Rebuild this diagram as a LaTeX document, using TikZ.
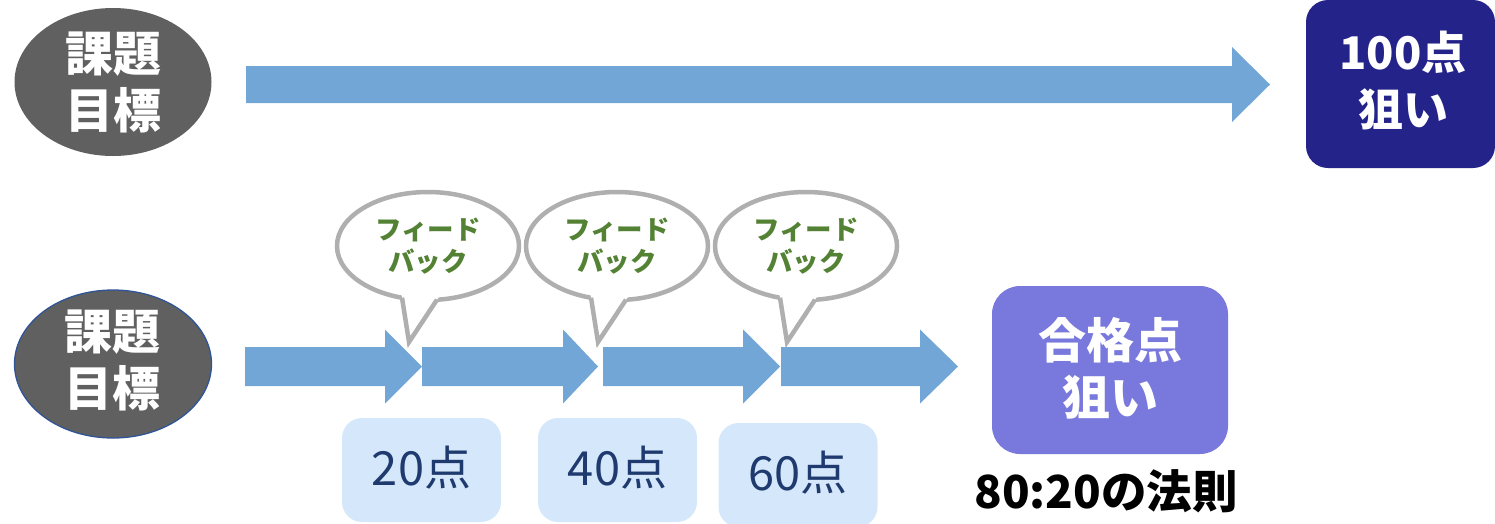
\documentclass[tikz,border=0pt]{standalone}
\usepackage{fontspec}
\setmainfont{Noto Sans CJK JP}
\usetikzlibrary{shapes.geometric}
\definecolor{goalgray}{HTML}{606060}
\definecolor{arrowblue}{HTML}{71A6D6}
\definecolor{navybox}{HTML}{23238A}
\definecolor{purplebox}{HTML}{7878DD}
\definecolor{bubgray}{HTML}{AFAFAF}
\definecolor{fbgreen}{HTML}{548235}
\definecolor{lightbox}{HTML}{D5E8FB}
\definecolor{scoretxt}{HTML}{1F3A6E}
\definecolor{ellborder}{HTML}{2F5597}
% #1 start x, #2 head base x, #3 tip x, #4 mid y, #5 body half height, #6 head half height
\newcommand{\blockarrow}[6]{%
  \fill[arrowblue] (#1,#4-#5) -- (#2,#4-#5) -- (#2,#4-#6) -- (#3,#4) -- (#2,#4+#6) -- (#2,#4+#5) -- (#1,#4+#5) -- cycle;}
% speech bubble: #1 name, #2 centre x
\newcommand{\fbbubble}[2]{%
  \node[bubble] (#1) at (#2,246) {フィード\\バック};
  \fill[white] (#2-27.5,288) -- (#2-19,342) -- (#2+16.7,288) -- cycle;
  \draw[bubgray, line width=4.5pt, line join=miter] (#2-26,297.7) -- (#2-19,342) -- (#2+9,299.7);
  \node[bubbletext] at (#1) {フィード\\バック};}
\tikzset{
  goalshape/.style={ellipse, fill=goalgray, minimum width=197pt, minimum height=148pt, inner sep=0pt},
  goaltext/.style={text=white, align=center, font=\fontsize{48}{57}\selectfont\bfseries},
  bubble/.style={ellipse, draw=bubgray, fill=white, line width=4.5pt, minimum width=182pt, minimum height=108pt, inner sep=0pt, text opacity=0},
  bubbletext/.style={text=fbgreen, align=center, font=\fontsize{26.5}{32}\selectfont\bfseries},
  scorebox/.style={fill=lightbox, rounded corners=20pt, minimum width=159pt, minimum height=104pt, inner sep=0pt},
  scoretext/.style={text=scoretxt, font=\fontsize{47}{50}\selectfont},
}
\begin{document}
\begin{tikzpicture}[x=1pt, y=-1pt]
\useasboundingbox (0,0) rectangle (1495,523);

% top row
\node[goalshape] (goal1) at (113,82) {};
\node[goaltext] (goal1t) at (goal1) {課題\\目標};
\blockarrow{246}{1232}{1270}{84.5}{18.5}{37.5}
\node[fill=navybox, rounded corners=22pt, minimum width=189pt, minimum height=168pt, inner sep=0pt] (target100) at (1400.5,84) {};
\node[text=white, align=center, font=\fontsize{45}{57}\selectfont\bfseries] at (1403,81) {100点\\狙い};

% bottom row
\node[goalshape, draw=ellborder, line width=1.3pt] (goal2) at (113,364) {};
\node[goaltext] (goal2t) at (112,360) {課題\\目標};
\blockarrow{245}{385}{422}{366.5}{19.5}{37}
\blockarrow{422}{563}{598}{366.5}{19.5}{37}
\blockarrow{603}{743}{780}{366.5}{19.5}{37}
\blockarrow{781}{920}{958}{366.5}{19.5}{37}

\fbbubble{fb1}{428}
\fbbubble{fb2}{617}
\fbbubble{fb3}{806}

\node[scorebox] (s20) at (421.5,470) {};
\node[scoretext] at (421.5,468) {20点};
\node[scorebox] (s40) at (617.5,470) {};
\node[scoretext] at (617.5,468) {40点};
\node[scorebox] (s60) at (798,475) {};
\node[scoretext] at (798,473) {60点};

\node[fill=purplebox, rounded corners=28pt, minimum width=236pt, minimum height=168pt, inner sep=0pt] (pass) at (1110,370) {};
\node[text=white, align=center, font=\fontsize{48}{57}\selectfont\bfseries] at (1110,368) {合格点\\狙い};
\node[font=\fontsize{45.5}{50}\selectfont\bfseries] (rule) at (1106,491) {80:20の法則};
\end{tikzpicture}
\end{document}
